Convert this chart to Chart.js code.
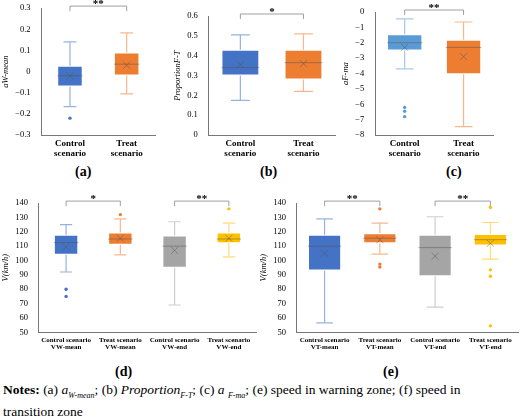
<!DOCTYPE html>
<html><head><meta charset="utf-8">
<script src="https://cdn.jsdelivr.net/npm/chart.js@4/dist/chart.umd.min.js"></script>
<style>
body{margin:0;background:#fff;width:520px;height:417px;position:relative;overflow:hidden;font-family:"Liberation Serif","Times New Roman","DejaVu Serif",serif}
.c{position:absolute}
.cap{position:absolute;font-weight:bold;font-size:14px}
#notes{position:absolute;left:3px;top:382px;font-size:13.5px;line-height:16px;width:480px}
</style></head><body>
<div class="c" style="left:0;top:0;width:165px;height:162px"><canvas id="ca"></canvas></div>
<div class="c" style="left:172px;top:0;width:165px;height:162px"><canvas id="cb"></canvas></div>
<div class="c" style="left:340px;top:0;width:165px;height:162px"><canvas id="cc"></canvas></div>
<div class="c" style="left:0;top:195px;width:258px;height:160px"><canvas id="cd"></canvas></div>
<div class="c" style="left:258px;top:195px;width:262px;height:160px"><canvas id="ce"></canvas></div>
<div class="cap" style="left:75px;top:164px">(a)</div>
<div class="cap" style="left:260px;top:164px">(b)</div>
<div class="cap" style="left:446px;top:164px">(c)</div>
<div class="cap" style="left:115px;top:364px">(d)</div>
<div class="cap" style="left:383px;top:364px">(e)</div>
<div id="notes"><b>Notes:</b> (a) <i>a<sub style="font-size:8px">W-mean</sub></i>; (b) <i>Proportion<sub style="font-size:8px">F-T</sub></i>; (c) <i>a <sub style="font-size:8px">F-ma</sub></i>; (e) speed in warning zone; (f) speed in transition zone</div>
<script>
// box stats: [min, q1, median, q3, max, mean]
const labelsAB = [['Control', 'scenario'], ['Treat', 'scenario']]
const statsA = [[-0.165, -0.07, -0.02, 0.028, 0.14, -0.02], [-0.105, -0.018, 0.035, 0.09, 0.183, 0.03]]
const outA = [[-0.22], []]
const statsB = [[0.175, 0.3, 0.34, 0.43, 0.505, 0.355], [0.22, 0.28, 0.365, 0.43, 0.51, 0.36]]
const outB = [[], []]
const statsC = [[-3.7, -2.5, -2.0, -1.45, -0.45, -2.3], [-7.45, -4.05, -2.3, -1.8, -0.65, -2.9]]
const outC = [[-6.2, -6.45, -6.8], []]
const labelsD = [['Control scenario', 'VW-mean'], ['Treat scenario', 'VW-mean'], ['Control scenario', 'VW-end'], ['Treat scenario', 'VW-end']]
const statsD = [[92, 104, 112.5, 118, 125, 109.5], [104, 111, 115, 119.5, 129, 115.5], [69, 95, 110, 117.5, 127, 107], [102.5, 112, 115, 119.5, 126, 115.5]]
const outD = [[80, 75], [132], [], [136]]
const labelsE = [['Control scenario', 'VT-mean'], ['Treat scenario', 'VT-mean'], ['Control scenario', 'VT-end'], ['Treat scenario', 'VT-end']]
const statsE = [[56.5, 93, 110, 118, 129, 105], [104.5, 112, 115.5, 119, 126, 114.5], [67.5, 89, 109, 118, 130.5, 103], [101, 110.5, 114.5, 118.5, 126.5, 112]]
const outE = [[], [136, 97.5, 95.5], [], [137, 93.5, 89, 54.5]]

const BLUE = '#4472c4', ORANGE = '#ed7d31', GRAY = '#a5a5a5', YELLOW = '#ffc000', LBLUE = '#5b9bd5'
const FAM = '"Liberation Serif", "Times New Roman", "DejaVu Serif", serif'

const boxPlugin = {
  id: 'box',
  afterDatasetsDraw(chart) {
    const { ctx, scales: { x, y } } = chart
    const o = chart.options.plugins.box
    const meta = chart.getDatasetMeta(0)
    ctx.save()
    o.stats.forEach((s, i) => {
      const bar = meta.data[i]
      const cx = bar.x, hw = bar.width / 2
      const col = o.colors[i]
      ctx.strokeStyle = col
      ctx.globalAlpha = 0.55
      ctx.lineWidth = 1.2
      ctx.beginPath()
      ctx.moveTo(cx, y.getPixelForValue(s[0])); ctx.lineTo(cx, y.getPixelForValue(s[1]))
      ctx.moveTo(cx, y.getPixelForValue(s[3])); ctx.lineTo(cx, y.getPixelForValue(s[4]))
      ctx.moveTo(cx - hw / 2, y.getPixelForValue(s[0])); ctx.lineTo(cx + hw / 2, y.getPixelForValue(s[0]))
      ctx.moveTo(cx - hw / 2, y.getPixelForValue(s[4])); ctx.lineTo(cx + hw / 2, y.getPixelForValue(s[4]))
      ctx.stroke()
      ctx.globalAlpha = 0.6
      ctx.strokeStyle = '#555'
      ctx.lineWidth = 0.8
      const my = y.getPixelForValue(s[2])
      ctx.beginPath(); ctx.moveTo(cx - hw, my); ctx.lineTo(cx + hw, my); ctx.stroke()
      const ay = y.getPixelForValue(s[5])
      ctx.beginPath()
      ctx.moveTo(cx - 3.5, ay - 3.5); ctx.lineTo(cx + 3.5, ay + 3.5)
      ctx.moveTo(cx + 3.5, ay - 3.5); ctx.lineTo(cx - 3.5, ay + 3.5)
      ctx.stroke()
      ctx.globalAlpha = 1
      ctx.fillStyle = col
      o.outliers[i].forEach((v) => {
        ctx.beginPath(); ctx.arc(cx, y.getPixelForValue(v), 1.7, 0, Math.PI * 2); ctx.fill()
      })
    })
    ctx.strokeStyle = '#888'
    ctx.fillStyle = '#000'
    ctx.lineWidth = 0.8
    ctx.font = 'bold 11px ' + FAM
    ctx.textAlign = 'center'
    o.brackets.forEach(([a, b, txt]) => {
      const xa = meta.data[a].x, xb = meta.data[b].x
      const by = y.top - 2
      ctx.beginPath()
      ctx.moveTo(xa, by + 5); ctx.lineTo(xa, by); ctx.lineTo(xb, by); ctx.lineTo(xb, by + 5)
      ctx.stroke()
      ctx.fillText(txt, (xa + xb) / 2, by + 1)
    })
    ctx.restore()
  },
}

function makeChart(id, labels, stats, outliers, colors, yo, brackets, title, opts) {
  return new Chart(document.getElementById(id), {
    type: 'bar',
    data: {
      labels,
      datasets: [{
        data: stats.map((s) => [s[1], s[3]]),
        backgroundColor: colors,
        borderColor: colors.map(() => 'rgba(255,255,255,0.35)'),
        borderWidth: 1,
        barPercentage: opts.bar,
        categoryPercentage: 1,
        borderSkipped: false,
      }],
    },
    options: {
      animation: false,
      responsive: true,
      maintainAspectRatio: false,
      layout: { padding: { top: opts.top, right: opts.right } },
      scales: {
        x: {
          offset: true,
          grid: { display: false, drawTicks: false },
          border: { color: '#777' },
          ticks: { color: '#000', padding: 4, maxRotation: 0, autoSkip: false, font: { family: FAM, size: opts.xfs, weight: 'bold', lineHeight: 1.05 } },
        },
        y: {
          min: yo.min, max: yo.max,
          grid: { display: false },
          border: { color: '#777' },
          ticks: { stepSize: yo.step, color: '#000', font: { family: FAM, size: 8.5 }, callback: yo.fmt },
          title: { display: true, text: title, color: '#000', padding: 1, font: { family: FAM, size: 8.5, style: 'italic' } },
        },
      },
      plugins: {
        legend: false,
        tooltip: false,
        box: { stats, outliers, colors, brackets },
      },
    },
    plugins: [boxPlugin],
  })
}

const f1 = (v) => (Math.abs(v) < 1e-9 ? '0' : v.toFixed(1).replace('-', '−'))
const fi = (v) => (v === 0 ? '0' : String(v).replace('-', '−'))
makeChart('ca', labelsAB, statsA, outA, [BLUE, ORANGE], { min: -0.3, max: 0.3, step: 0.1, fmt: f1 }, [[0, 1, '**']], 'aW-mean', { bar: 0.45, top: 6, right: 10, xfs: 9 })
makeChart('cb', labelsAB, statsB, outB, [BLUE, ORANGE], { min: 0, max: 0.6, step: 0.1, fmt: f1 }, [[0, 1, '*']], 'ProportionF-T', { bar: 0.6, top: 16, right: 2, xfs: 9 })
makeChart('cc', labelsAB, statsC, outC, [LBLUE, ORANGE], { min: -8, max: 0, step: 1, fmt: fi }, [[0, 1, '**']], 'aF-ma', { bar: 0.6, top: 12, right: 12, xfs: 9 })
makeChart('cd', labelsD, statsD, outD, [BLUE, ORANGE, GRAY, YELLOW], { min: 50, max: 140, step: 10, fmt: fi }, [[0, 1, '*'], [2, 3, '**']], 'V(km/h)', { bar: 0.45, top: 8, right: 2, xfs: 7 })
makeChart('ce', labelsE, statsE, outE, [BLUE, ORANGE, GRAY, YELLOW], { min: 50, max: 140, step: 10, fmt: fi }, [[0, 1, '**'], [2, 3, '**']], 'V(km/h)', { bar: 0.6, top: 8, right: 2, xfs: 7 })
</script>
</body></html>
